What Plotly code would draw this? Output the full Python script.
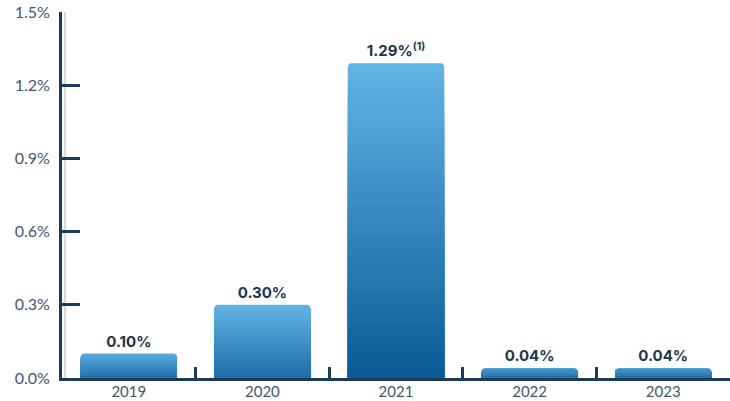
import plotly.graph_objects as go

years = ["2019", "2020", "2021", "2022", "2023"]
rates = [0.10, 0.30, 1.29, 0.04, 0.04]
labels = ["0.10%", "0.30%", "1.29%<sup>(1)</sup>", "0.04%", "0.04%"]
ytick_vals = [0.0, 0.3, 0.6, 0.9, 1.2, 1.5]
ytick_text = ["0.0%", "0.3%", "0.6%", "0.9%", "1.2%", "1.5%"]

LIGHT = (99, 180, 229)
DARK = (10, 90, 150)
NAVY = "#1c3a5a"
SHADOW = "#d3dbe3"
N = 40
vmax = max(rates)


def mix(t):
    t = max(0.0, min(1.0, t))
    r, g, b = (round(LIGHT[i] + (DARK[i] - LIGHT[i]) * t) for i in range(3))
    return f"rgb({r},{g},{b})"


t_top = [max(0.0, 0.45 - v * 3.5) for v in rates]
t_bot = [0.72 + 0.28 * (v / vmax) for v in rates]

fig = go.Figure()
for k in range(N):
    frac_h = (N - k) / N
    f = (k + 0.5) / N
    colors = [mix(t_top[i] + (t_bot[i] - t_top[i]) * f) for i in range(len(rates))]
    bar = dict(
        x=years,
        y=[v * frac_h for v in rates],
        marker=dict(color=colors, line=dict(width=0), cornerradius=4),
        cliponaxis=False,
        hoverinfo="skip",
        showlegend=False,
    )
    if k == 0:
        bar.update(
            text=labels,
            textposition="outside",
            textfont=dict(family="Inter, Open Sans, sans-serif", size=15, color="#1b3452", weight="bold"),
        )
    fig.add_trace(go.Bar(**bar))

fig.update_layout(
    width=730, height=401,
    margin=dict(l=62, r=0, t=12, b=23),
    barmode="overlay",
    bargap=0.28,
    plot_bgcolor="white",
    paper_bgcolor="white",
    font=dict(family="Lato, Open Sans, sans-serif", color="#3f5772"),
    shapes=[
        dict(type="line", xref="paper", x0=0, x1=1, yref="y", ysizemode="pixel",
             yanchor=0, y0=-3, y1=-3, line=dict(color=SHADOW, width=2), layer="below"),
        dict(type="line", yref="paper", y0=0, y1=1, xref="paper", xsizemode="pixel",
             xanchor=0, x0=3, x1=3, line=dict(color=SHADOW, width=2), layer="below"),
    ],
)
fig.update_xaxes(
    type="category",
    automargin=False,
    showline=True, linewidth=3, linecolor=NAVY,
    showgrid=False, zeroline=False,
    ticks="inside", tickson="boundaries", ticklen=11, tickwidth=3, tickcolor=NAVY,
    tickfont=dict(size=15, color="#3f5772"),
    ticklabelstandoff=-2,
)
fig.update_yaxes(
    range=[0, 1.5],
    automargin=False,
    showline=True, linewidth=3, linecolor=NAVY,
    showgrid=False, zeroline=False,
    tickvals=ytick_vals, ticktext=ytick_text,
    ticks="inside", ticklen=18, tickwidth=3, tickcolor=NAVY,
    tickfont=dict(size=16, color="#3f5772"),
    ticklabelstandoff=6,
)

fig.write_html("out.html")
